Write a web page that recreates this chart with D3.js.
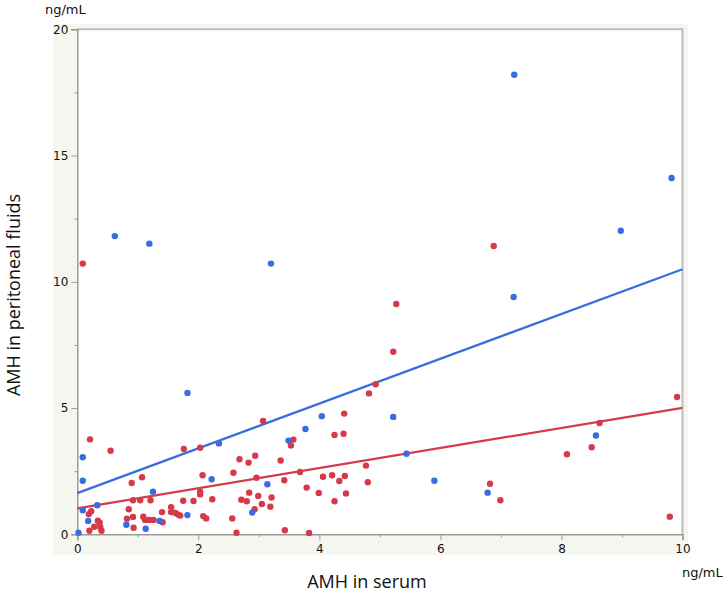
<!DOCTYPE html>
<html><head><meta charset="utf-8">
<script src="https://cdn.jsdelivr.net/npm/d3@7"></script>
<style>
html,body{margin:0;padding:0;background:#fff;}
svg{display:block;}
</style></head>
<body>
<svg id="chart" width="726" height="592"></svg>
<script>
// ---- data ----
const xTicks = [0, 2, 4, 6, 8, 10];
const yTicks = [0, 5, 10, 15, 20];
const xMinorTicks = [1, 3, 5, 7, 9];
const yMinorTicks = [2.5, 7.5, 12.5, 17.5];
const unitLabel = "ng/mL";
const xTitle = "AMH in serum";
const yTitle = "AMH in peritoneal fluids";

const blueX = [7.22, 9.82, 8.98, 7.21, 0.62, 1.19, 3.20, 1.82, 0.09, 0.09, 2.34, 1.25, 2.22, 0.33, 0.09, 0.18, 0.02, 0.81, 1.13, 1.36, 1.82, 3.77, 3.49, 3.14, 2.89, 4.04, 5.22, 5.44, 5.90, 6.78, 8.57];
const blueY = [18.2, 14.11, 12.02, 9.40, 11.81, 11.51, 10.72, 5.60, 3.05, 2.12, 3.60, 1.69, 2.18, 1.15, 0.95, 0.53, 0.06, 0.38, 0.22, 0.53, 0.76, 4.17, 3.71, 1.98, 0.86, 4.68, 4.65, 3.19, 2.12, 1.65, 3.91];

const redX = [0.09, 6.88, 0.21, 0.55, 1.76, 2.03, 1.07, 0.90, 2.07, 0.23, 0.19, 0.20, 0.28, 0.34, 0.37, 0.38, 0.40, 0.82, 0.92, 0.93, 0.85, 0.92, 1.04, 1.21, 1.09, 1.12, 1.19, 1.26, 1.40, 1.41, 1.55, 1.55, 1.61, 1.64, 1.68, 1.70, 1.75, 1.92, 2.03, 2.03, 2.23, 2.08, 2.13, 2.56, 2.63, 2.58, 2.68, 2.83, 2.71, 2.80, 2.84, 3.07, 3.57, 3.53, 2.94, 3.36, 2.96, 3.42, 3.68, 3.79, 3.99, 2.99, 3.21, 3.05, 3.19, 2.93, 3.43, 3.83, 5.22, 5.27, 4.93, 4.82, 4.41, 4.25, 4.40, 4.77, 4.06, 4.21, 4.42, 4.33, 4.80, 4.44, 4.25, 6.82, 6.99, 8.09, 8.50, 8.63, 9.91, 9.79];
const redY = [10.72, 11.42, 3.76, 3.31, 3.38, 3.43, 2.26, 2.03, 2.34, 0.91, 0.80, 0.14, 0.30, 0.54, 0.46, 0.29, 0.14, 0.62, 0.69, 0.26, 0.99, 1.35, 1.35, 1.35, 0.70, 0.57, 0.57, 0.57, 0.88, 0.48, 1.07, 0.88, 0.86, 0.82, 0.76, 0.74, 1.33, 1.32, 1.69, 1.58, 1.39, 0.72, 0.63, 0.63, 0.06, 2.44, 2.97, 2.84, 1.37, 1.31, 1.65, 4.49, 3.75, 3.52, 3.11, 2.92, 2.24, 2.14, 2.47, 1.85, 1.64, 1.52, 1.46, 1.20, 1.09, 0.99, 0.16, 0.05, 7.23, 9.12, 5.94, 5.58, 4.78, 3.93, 3.98, 2.72, 2.28, 2.34, 2.31, 2.11, 2.06, 1.62, 1.31, 2.00, 1.35, 3.17, 3.45, 4.41, 5.44, 0.70];

// fitted regression lines (endpoints)
const blueFitX = [0, 10];
const blueFitY = [1.63, 10.5];
const redFitX = [0, 10];
const redFitY = [1.03, 5.01];

// ---- drawing ----
const BLUE = "#386de0";
const RED = "#d63a4a";
const svg = d3.select("#chart");
const x = d3.scaleLinear().domain([0, 10]).range([77.3, 682.5]);
const y = d3.scaleLinear().domain([0, 20]).range([534.3, 29.3]);

// outer light panel
svg.append("rect").attr("x", 53).attr("y", 24).attr("width", 635).attr("height", 531).attr("fill", "#f6f6f1");
// plot area
svg.append("rect").attr("x", x(0)).attr("y", y(20)).attr("width", x(10) - x(0)).attr("height", y(0) - y(20)).attr("fill", "#ffffff");
// top & right frame
svg.append("path").attr("d", `M${x(0)},${y(20)}H${x(10)}V${y(0)}`).attr("fill", "none").attr("stroke", "#bdbdbd").attr("stroke-width", 2);

const font = "'DejaVu Sans', sans-serif";
// y axis
const yAxis = d3.axisLeft(y).tickValues(yTicks).tickSize(6).tickPadding(3).tickFormat(d3.format("d"));
const gy = svg.append("g").attr("transform", `translate(${x(0)},0)`).call(yAxis);
gy.selectAll("text").attr("font-family", font).attr("font-size", 12).attr("fill", "#111");
const yMinor = d3.axisLeft(y).tickValues(yMinorTicks).tickSize(3).tickFormat("");
svg.append("g").attr("transform", `translate(${x(0)},0)`).call(yMinor).select(".domain").remove();

// x axis
const xAxis = d3.axisBottom(x).tickValues(xTicks).tickSize(6).tickPadding(4).tickFormat(d3.format("d"));
const gx = svg.append("g").attr("transform", `translate(0,${y(0)})`).call(xAxis);
gx.selectAll("text").attr("font-family", font).attr("font-size", 12).attr("fill", "#111");
const xMinor = d3.axisBottom(x).tickValues(xMinorTicks).tickSize(3).tickFormat("");
svg.append("g").attr("transform", `translate(0,${y(0)})`).call(xMinor).select(".domain").remove();

svg.selectAll(".domain").attr("stroke", "#9a9a9a").attr("stroke-width", 1.5);
svg.selectAll(".tick line").attr("stroke", "#9a9a9a");

// regression lines
const line = d3.line().x(d => x(d[0])).y(d => y(d[1]));
svg.append("path").datum(blueFitX.map((v, i) => [v, blueFitY[i]]))
  .attr("d", line).attr("fill", "none").attr("stroke", BLUE).attr("stroke-width", 2.2);
svg.append("path").datum(redFitX.map((v, i) => [v, redFitY[i]]))
  .attr("d", line).attr("fill", "none").attr("stroke", RED).attr("stroke-width", 2.2);

// points
svg.append("g").selectAll("circle").data(redX.map((v, i) => [v, redY[i]])).join("circle")
  .attr("cx", d => x(d[0])).attr("cy", d => y(d[1])).attr("r", 3.2).attr("fill", RED);
svg.append("g").selectAll("circle").data(blueX.map((v, i) => [v, blueY[i]])).join("circle")
  .attr("cx", d => x(d[0])).attr("cy", d => y(d[1])).attr("r", 3.2).attr("fill", BLUE);

// unit labels
svg.append("text").attr("x", 45).attr("y", 14).attr("font-family", font).attr("font-size", 13).attr("fill", "#111").text(unitLabel);
svg.append("text").attr("x", 682).attr("y", 577).attr("font-family", font).attr("font-size", 13).attr("fill", "#111").text(unitLabel);

// axis titles
const tfont = "'Open Sans', sans-serif";
svg.append("text").attr("x", 367).attr("y", 588).attr("text-anchor", "middle")
  .attr("font-family", tfont).attr("font-size", 18).attr("fill", "#111").text(xTitle);
svg.append("text").attr("transform", "translate(20,295) rotate(-90)").attr("text-anchor", "middle")
  .attr("font-family", tfont).attr("font-size", 18).attr("fill", "#111").text(yTitle);
</script>
</body></html>
